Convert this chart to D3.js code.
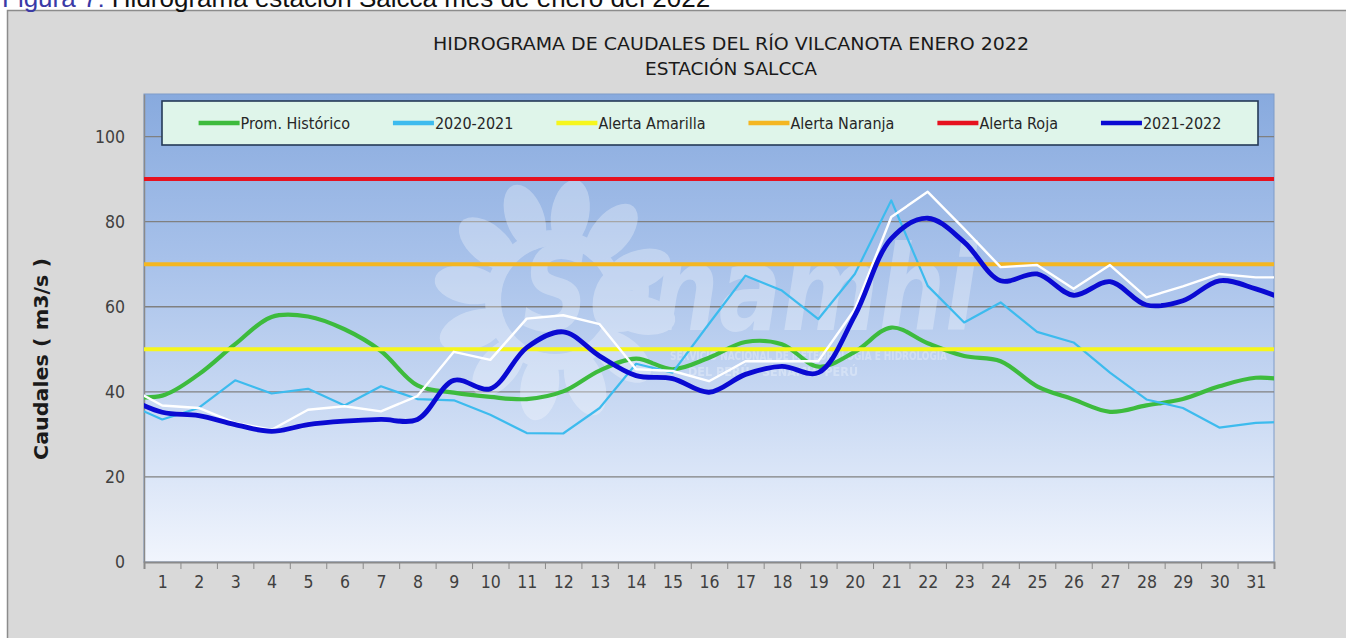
<!DOCTYPE html>
<html lang="es">
<head>
	<meta charset="UTF-8">
	<title>Hidrograma estación Salcca</title>
	<script src="https://cdn.jsdelivr.net/npm/d3@7"></script>
	<style>
		body { margin: 0; background: #fff; }
		svg { display: block; }
	</style>
</head>
<body>
	<svg id="chart" width="1346" height="638"></svg>

	<script>
		// dias del mes (etiquetas del eje x)
		var days = d3.range(1, 32);
		// cada serie va del dia 0 al dia 32; el primero y el ultimo salen del area y se recortan
		var dayIndex = d3.range(0, 33);
		var promHistorico = [39.0, 39.1, 44.1, 51.2, 57.6, 57.7, 54.7, 49.6, 41.5, 39.8, 38.8, 38.3, 40.1, 45.0, 47.8, 45.3, 48.0,
			51.7, 51.2, 45.9, 49.4, 55.1, 51.4, 48.4, 47.2, 41.3, 38.2, 35.3, 36.8, 38.3, 41.3, 43.3, 42.6];
		var serie2020 = [37.3, 33.5, 36.2, 42.7, 39.6, 40.7, 36.8, 41.3, 38.3, 38.0, 34.6, 30.3, 30.2, 36.2, 46.6, 44.5, 56.0,
			67.3, 63.8, 57.1, 67.7, 85.0, 64.9, 56.3, 61.0, 54.1, 51.6, 44.5, 38.2, 36.2, 31.6, 32.7, 33.0];
		var serieBlanca = [41.4, 36.8, 36.2, 32.7, 31.1, 35.8, 36.6, 35.4, 39.0, 49.4, 47.5, 57.2, 58.0, 55.9, 45.3, 44.9, 42.5,
			47.2, 47.2, 47.2, 59.4, 81.1, 87.0, 78.3, 69.3, 69.8, 64.2, 69.8, 62.2, 64.8, 67.7, 66.9, 66.9];
		var serie2021 = [38.8, 35.2, 34.4, 32.3, 30.7, 32.3, 33.1, 33.5, 33.5, 42.7, 40.7, 50.4, 54.1, 48.4, 43.8, 43.1, 39.9,
			44.1, 46.0, 44.5, 57.9, 76.0, 80.8, 75.2, 66.1, 67.7, 62.7, 65.9, 60.4, 61.4, 66.1, 64.2, 61.0];
		// umbrales de alerta
		var alertaAmarilla = 50;
		var alertaNaranja = 70;
		var alertaRoja = 90;
		var yTicks = [0, 20, 40, 60, 80, 100];
		var legendNames = ["Prom. Histórico", "2020-2021", "Alerta Amarilla", "Alerta Naranja", "Alerta Roja", "2021-2022"];
		var legendColors = ["#3dbb3d", "#3dbbee", "#f6f61c", "#f4b621", "#e6111f", "#0a0ad2"];

		var font = "'DejaVu Sans Condensed', 'DejaVu Sans', sans-serif";
		var svg = d3.select("#chart");
		var pL = 144, pR = 1274, pT = 94, pB = 562;

		var x = d3.scaleLinear().domain([0.5, 31.5]).range([pL, pR]);
		var y = d3.scaleLinear().domain([0, 110]).range([pB, pT]);

		svg.append("rect").attr("x", 7.5).attr("y", 10.5).attr("width", 1400).attr("height", 700)
			.attr("fill", "#d9d9d9").attr("stroke", "#8c8c8c").attr("stroke-width", 1.5);

		// caption above the frame
		var cap = svg.append("text").attr("x", 2).attr("y", 7)
			.attr("font-family", "'Liberation Sans', Arial, sans-serif").attr("font-size", 26);
		cap.append("tspan").attr("fill", "#3a3aa6").text("Figura 7: ");
		cap.append("tspan").attr("fill", "#111").text("Hidrograma estación Salcca mes de enero del 2022");

		var defs = svg.append("defs");
		var grad = defs.append("linearGradient").attr("id", "bg").attr("x1", 0).attr("y1", 0).attr("x2", 0).attr("y2", 1);
		grad.append("stop").attr("offset", 0).attr("stop-color", "#88aade");
		grad.append("stop").attr("offset", 0.35).attr("stop-color", "#a7c1ea");
		grad.append("stop").attr("offset", 0.7).attr("stop-color", "#cddcf4");
		grad.append("stop").attr("offset", 1).attr("stop-color", "#f1f5fd");
		defs.append("clipPath").attr("id", "clip").append("rect")
			.attr("x", pL).attr("y", pT).attr("width", pR - pL).attr("height", pB - pT);

		svg.append("rect").attr("x", pL).attr("y", pT).attr("width", pR - pL).attr("height", pB - pT)
			.attr("fill", "url(#bg)").attr("stroke", "#7e9cc9").attr("stroke-width", 1);

		// gridlines
		svg.append("g").selectAll("line").data(yTicks.slice(1)).enter().append("line")
			.attr("x1", pL).attr("x2", pR).attr("y1", function(d) { return y(d); }).attr("y2", function(d) { return y(d); })
			.attr("stroke", "#808080").attr("stroke-width", 1.3);

		// senamhi watermark
		var wm = svg.append("g").attr("clip-path", "url(#clip)").attr("opacity", 0.3);
		var sun = wm.append("g").attr("transform", "translate(555,300)");
		sun.selectAll("ellipse").data(d3.range(12)).enter().append("ellipse")
			.attr("cx", 0).attr("cy", -88).attr("rx", 19).attr("ry", 34)
			.attr("transform", function(d) { return "rotate(" + (d * 30 + 10) + ")"; })
			.attr("fill", "#ffffff");
		sun.append("circle").attr("r", 62).attr("fill", "none").attr("stroke", "#ffffff").attr("stroke-width", 16);
		wm.append("text").attr("x", 522).attr("y", 330).attr("textLength", 455).attr("lengthAdjust", "spacingAndGlyphs")
			.attr("font-family", "'DejaVu Sans', sans-serif").attr("font-weight", "bold").attr("font-style", "italic")
			.attr("font-size", 118).attr("fill", "#ffffff").text("Senamhi");
		wm.append("text").attr("x", 670).attr("y", 360).attr("textLength", 277).attr("lengthAdjust", "spacingAndGlyphs")
			.attr("font-family", font).attr("font-weight", "bold").attr("font-size", 12).attr("fill", "#ffffff")
			.text("SERVICIO NACIONAL DE METEOROLOGÍA E HIDROLOGÍA");
		wm.append("text").attr("x", 688).attr("y", 376).attr("textLength", 170).attr("lengthAdjust", "spacingAndGlyphs")
			.attr("font-family", font).attr("font-weight", "bold").attr("font-size", 12).attr("fill", "#ffffff")
			.text("DEL PERÚ - SENAMHI PERÚ");

		// axes
		svg.append("g").attr("transform", "translate(0," + pB + ")")
			.call(d3.axisBottom(x).tickValues(d3.range(0.5, 32, 1)).tickSize(7).tickFormat(""))
			.call(function(g) {
				g.select(".domain").attr("stroke", "#8a8a8a").attr("stroke-width", 2);
				g.selectAll(".tick line").attr("stroke", "#8a8a8a");
			});
		svg.append("g").attr("transform", "translate(0," + pB + ")")
			.call(d3.axisBottom(x).tickValues(days).tickSize(0).tickPadding(14))
			.call(function(g) {
				g.select(".domain").remove();
				g.selectAll("text").attr("font-family", font).attr("font-size", 17.5).attr("fill", "#404040");
			});
		svg.append("g").attr("transform", "translate(" + pL + ",0)")
			.call(d3.axisLeft(y).tickValues(yTicks).tickSize(0).tickPadding(19))
			.call(function(g) {
				g.select(".domain").attr("stroke", "#8a8a8a").attr("stroke-width", 1.5);
				g.selectAll("text").attr("font-family", font).attr("font-size", 17.5).attr("fill", "#404040");
			});

		svg.append("text").attr("transform", "translate(48,359) rotate(-90)").attr("text-anchor", "middle")
			.attr("textLength", 202).attr("lengthAdjust", "spacingAndGlyphs")
			.attr("font-family", font).attr("font-weight", "bold").attr("font-size", 20).attr("fill", "#1a1a1a")
			.text("Caudales ( m3/s )");

		// lines
		var lines = svg.append("g").attr("clip-path", "url(#clip)");
		function addSerie(vals, color, width, curve) {
			var line = d3.line().x(function(d, i) { return x(dayIndex[i]); }).y(function(d) { return y(d); }).curve(curve);
			lines.append("path").datum(vals).attr("d", line).attr("fill", "none")
				.attr("stroke", color).attr("stroke-width", width).attr("stroke-linejoin", "round");
		}
		function addAlerta(v, color) {
			addSerie(dayIndex.map(function() { return v; }), color, 4, d3.curveLinear);
		}
		addSerie(promHistorico, legendColors[0], 4.2, d3.curveCatmullRom);
		addSerie(serie2020, legendColors[1], 2.2, d3.curveLinear);
		addAlerta(alertaAmarilla, legendColors[2]);
		addAlerta(alertaNaranja, legendColors[3]);
		addAlerta(alertaRoja, legendColors[4]);
		addSerie(serieBlanca, "#ffffff", 2.4, d3.curveLinear);
		addSerie(serie2021, legendColors[5], 4.8, d3.curveCatmullRom);

		// legend
		svg.append("rect").attr("x", 162).attr("y", 101).attr("width", 1096).attr("height", 44)
			.attr("fill", "#dff5ea").attr("stroke", "#253a57").attr("stroke-width", 1.6);
		var leg = svg.append("g");
		var items = legendNames.map(function(n, i) {
			var t = leg.append("text").attr("y", 129).attr("font-family", font).attr("font-size", 16)
				.attr("fill", "#262626").text(n);
			return { t: t, w: t.node().getComputedTextLength(), c: legendColors[i] };
		});
		var total = d3.sum(items, function(d) { return d.w + 42; }) + 43 * (items.length - 1);
		var sx = 710 - total / 2;
		items.forEach(function(d) {
			leg.append("line").attr("x1", sx).attr("x2", sx + 41).attr("y1", 123).attr("y2", 123)
				.attr("stroke", d.c).attr("stroke-width", 4.5);
			d.t.attr("x", sx + 42);
			sx += 42 + d.w + 43;
		});

		// title
		svg.append("text").attr("x", 731).attr("y", 50).attr("text-anchor", "middle")
			.attr("textLength", 596).attr("lengthAdjust", "spacingAndGlyphs")
			.attr("font-family", font).attr("font-size", 18.5).attr("fill", "#1a1a1a")
			.text("HIDROGRAMA DE CAUDALES DEL RÍO VILCANOTA ENERO 2022");
		svg.append("text").attr("x", 731).attr("y", 75).attr("text-anchor", "middle")
			.attr("textLength", 172).attr("lengthAdjust", "spacingAndGlyphs")
			.attr("font-family", font).attr("font-size", 18.5).attr("fill", "#1a1a1a")
			.text("ESTACIÓN SALCCA");
	</script>
</body>
</html>
